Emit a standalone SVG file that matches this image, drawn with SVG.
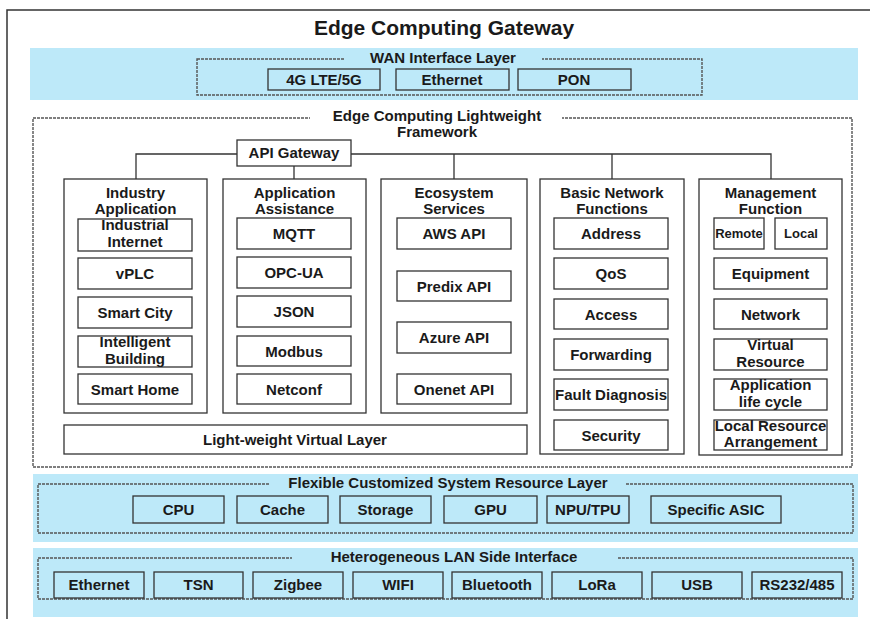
<svg xmlns="http://www.w3.org/2000/svg" width="870" height="619" viewBox="0 0 870 619">
<style>
.t{font-family:"Liberation Sans",Arial,sans-serif;font-weight:bold;font-size:15px;fill:#1a1a1a;text-anchor:middle}
.s{font-size:13px}
.title{font-size:21px}
.box{fill:#fff;stroke:#333;stroke-width:1.3}
.bbox{fill:#BDE9F9;stroke:#333;stroke-width:1.3}
.band{fill:#BDE9F9}
.dash{fill:none;stroke:#555;stroke-width:1.4;stroke-dasharray:3 1}
.ln{fill:none;stroke:#333;stroke-width:1.3}
</style>
<rect width="870" height="619" fill="#fff"/>
<path d="M7,619 V10 H870" fill="none" stroke="#333" stroke-width="1.5"/>
<text class="t title" x="444" y="35">Edge Computing Gateway</text>

<!-- WAN layer -->
<g id="wan-layer">
<rect class="band" x="30" y="48" width="828" height="52"/>
<rect class="dash" x="197" y="59" width="505" height="36"/>
<rect class="band" x="344" y="53" width="198" height="12"/>
<text class="t" x="443" y="63">WAN Interface Layer</text>
<g id="wan-4g"><rect class="bbox" x="268" y="69" width="112" height="21"/><text class="t" x="324" y="85">4G LTE/5G</text></g>
<g id="wan-eth"><rect class="bbox" x="396" y="69" width="113" height="21"/><text class="t" x="452" y="85">Ethernet</text></g>
<g id="wan-pon"><rect class="bbox" x="518" y="69" width="113" height="21"/><text class="t" x="574" y="85">PON</text></g>
</g>

<!-- Framework -->
<g id="framework">
<rect class="dash" x="33" y="118" width="819" height="349"/>
<rect x="310" y="110" width="252" height="30" fill="#fff"/>
<text class="t" x="437" y="121">Edge Computing Lightweight</text>
<text class="t" x="437" y="137">Framework</text>
</g>

<g id="connectors">
<path class="ln" d="M136,179 V154 H771 V179 M294,166 V179 M454,154 V179 M612,154 V179"/>
</g>

<g id="api-gateway"><rect class="box" x="237" y="140" width="114" height="26"/><text class="t" x="294" y="158">API Gateway</text></g>

<g id="col-industry">
<rect class="box" x="64" y="179" width="143" height="234"/>
<text class="t" x="135.5" y="198">Industry</text>
<text class="t" x="135.5" y="214">Application</text>
<g id="industrial-internet"><rect class="box" x="78" y="219" width="114" height="32"/><text class="t" x="135" y="230">Industrial</text><text class="t" x="135" y="247">Internet</text></g>
<g id="vplc"><rect class="box" x="78" y="258" width="114" height="31"/><text class="t" x="135" y="279">vPLC</text></g>
<g id="smart-city"><rect class="box" x="78" y="297" width="114" height="31"/><text class="t" x="135" y="318">Smart City</text></g>
<g id="intelligent-building"><rect class="box" x="78" y="336" width="114" height="31"/><text class="t" x="135" y="347">Intelligent</text><text class="t" x="135" y="364">Building</text></g>
<g id="smart-home"><rect class="box" x="78" y="374" width="114" height="30"/><text class="t" x="135" y="394.5">Smart Home</text></g>
</g>

<g id="col-assistance">
<rect class="box" x="223" y="179" width="143" height="234"/>
<text class="t" x="294.5" y="198">Application</text>
<text class="t" x="294.5" y="214">Assistance</text>
<g id="mqtt"><rect class="box" x="237" y="218" width="114" height="31"/><text class="t" x="294" y="239">MQTT</text></g>
<g id="opcua"><rect class="box" x="237" y="257" width="114" height="31"/><text class="t" x="294" y="278">OPC-UA</text></g>
<g id="json"><rect class="box" x="237" y="296" width="114" height="31"/><text class="t" x="294" y="317">JSON</text></g>
<g id="modbus"><rect class="box" x="237" y="336" width="114" height="30"/><text class="t" x="294" y="356.5">Modbus</text></g>
<g id="netconf"><rect class="box" x="237" y="374" width="114" height="30"/><text class="t" x="294" y="394.5">Netconf</text></g>
</g>

<g id="col-ecosystem">
<rect class="box" x="381" y="179" width="146" height="234"/>
<text class="t" x="454" y="198">Ecosystem</text>
<text class="t" x="454" y="214">Services</text>
<g id="aws"><rect class="box" x="397" y="218" width="114" height="31"/><text class="t" x="454" y="239">AWS API</text></g>
<g id="predix"><rect class="box" x="397" y="271" width="114" height="30"/><text class="t" x="454" y="291.5">Predix API</text></g>
<g id="azure"><rect class="box" x="397" y="322" width="114" height="31"/><text class="t" x="454" y="343">Azure API</text></g>
<g id="onenet"><rect class="box" x="397" y="374" width="114" height="30"/><text class="t" x="454" y="394.5">Onenet API</text></g>
</g>

<g id="col-network">
<rect class="box" x="540" y="179" width="144" height="275"/>
<text class="t" x="612" y="198">Basic Network</text>
<text class="t" x="612" y="214">Functions</text>
<g id="address"><rect class="box" x="554" y="218" width="114" height="31"/><text class="t" x="611" y="239">Address</text></g>
<g id="qos"><rect class="box" x="554" y="258" width="114" height="31"/><text class="t" x="611" y="279">QoS</text></g>
<g id="access"><rect class="box" x="554" y="299" width="114" height="30"/><text class="t" x="611" y="319.5">Access</text></g>
<g id="forwarding"><rect class="box" x="554" y="339" width="114" height="31"/><text class="t" x="611" y="360">Forwarding</text></g>
<g id="fault"><rect class="box" x="554" y="379" width="114" height="31"/><text class="t" x="611" y="400" textLength="112" lengthAdjust="spacingAndGlyphs">Fault Diagnosis</text></g>
<g id="security"><rect class="box" x="554" y="420" width="114" height="30"/><text class="t" x="611" y="440.5">Security</text></g>
</g>

<g id="col-management">
<rect class="box" x="699" y="179" width="143" height="276"/>
<text class="t" x="770.5" y="198">Management</text>
<text class="t" x="770.5" y="214">Function</text>
<g id="remote"><rect class="box" x="714" y="218" width="50" height="31"/><text class="t s" x="739" y="238">Remote</text></g>
<g id="local"><rect class="box" x="775" y="218" width="52" height="31"/><text class="t s" x="801" y="238">Local</text></g>
<g id="equipment"><rect class="box" x="714" y="258" width="113" height="31"/><text class="t" x="770.5" y="279">Equipment</text></g>
<g id="network"><rect class="box" x="714" y="299" width="113" height="30"/><text class="t" x="770.5" y="319.5">Network</text></g>
<g id="virtual-resource"><rect class="box" x="714" y="339" width="113" height="31"/><text class="t" x="770.5" y="350">Virtual</text><text class="t" x="770.5" y="367">Resource</text></g>
<g id="app-lifecycle"><rect class="box" x="714" y="379" width="113" height="31"/><text class="t" x="770.5" y="390">Application</text><text class="t" x="770.5" y="407">life cycle</text></g>
<g id="local-resource"><rect class="box" x="714" y="420" width="113" height="30"/><text class="t" x="770.5" y="431">Local Resource</text><text class="t" x="770.5" y="447">Arrangement</text></g>
</g>

<g id="virtual-layer"><rect class="box" x="64" y="425" width="463" height="29"/><text class="t" x="295" y="445">Light-weight Virtual Layer</text></g>

<!-- Resource layer -->
<g id="resource-layer">
<rect class="band" x="33" y="474" width="825" height="68"/>
<rect class="dash" x="38" y="484" width="815" height="49"/>
<rect class="band" x="270" y="477" width="355" height="13"/>
<text class="t" x="448" y="488">Flexible Customized System Resource Layer</text>
<g id="cpu"><rect class="bbox" x="133" y="496" width="91" height="27"/><text class="t" x="178.5" y="515">CPU</text></g>
<g id="cache"><rect class="bbox" x="237" y="496" width="91" height="27"/><text class="t" x="282.5" y="515">Cache</text></g>
<g id="storage"><rect class="bbox" x="340" y="496" width="91" height="27"/><text class="t" x="385.5" y="515">Storage</text></g>
<g id="gpu"><rect class="bbox" x="444" y="496" width="93" height="27"/><text class="t" x="490.5" y="515">GPU</text></g>
<g id="npu"><rect class="bbox" x="547" y="496" width="82" height="27"/><text class="t" x="588" y="515">NPU/TPU</text></g>
<g id="asic"><rect class="bbox" x="651" y="496" width="130" height="27"/><text class="t" x="716" y="515">Specific ASIC</text></g>
</g>

<!-- LAN layer -->
<g id="lan-layer">
<rect class="band" x="33" y="548" width="825" height="69"/>
<rect class="dash" x="38" y="558" width="815" height="41"/>
<rect class="band" x="292" y="551" width="325" height="13"/>
<text class="t" x="454" y="562">Heterogeneous LAN Side Interface</text>
<g id="lan-eth"><rect class="bbox" x="54" y="572" width="90" height="26"/><text class="t" x="99" y="590">Ethernet</text></g>
<g id="lan-tsn"><rect class="bbox" x="154" y="572" width="89" height="26"/><text class="t" x="198.5" y="590">TSN</text></g>
<g id="lan-zigbee"><rect class="bbox" x="253" y="572" width="90" height="26"/><text class="t" x="298" y="590">Zigbee</text></g>
<g id="lan-wifi"><rect class="bbox" x="353" y="572" width="90" height="26"/><text class="t" x="398" y="590">WIFI</text></g>
<g id="lan-bt"><rect class="bbox" x="452" y="572" width="90" height="26"/><text class="t" x="497" y="590">Bluetooth</text></g>
<g id="lan-lora"><rect class="bbox" x="552" y="572" width="90" height="26"/><text class="t" x="597" y="590">LoRa</text></g>
<g id="lan-usb"><rect class="bbox" x="652" y="572" width="90" height="26"/><text class="t" x="697" y="590">USB</text></g>
<g id="lan-rs"><rect class="bbox" x="752" y="572" width="90" height="26"/><text class="t" x="797" y="590">RS232/485</text></g>
</g>
</svg>
